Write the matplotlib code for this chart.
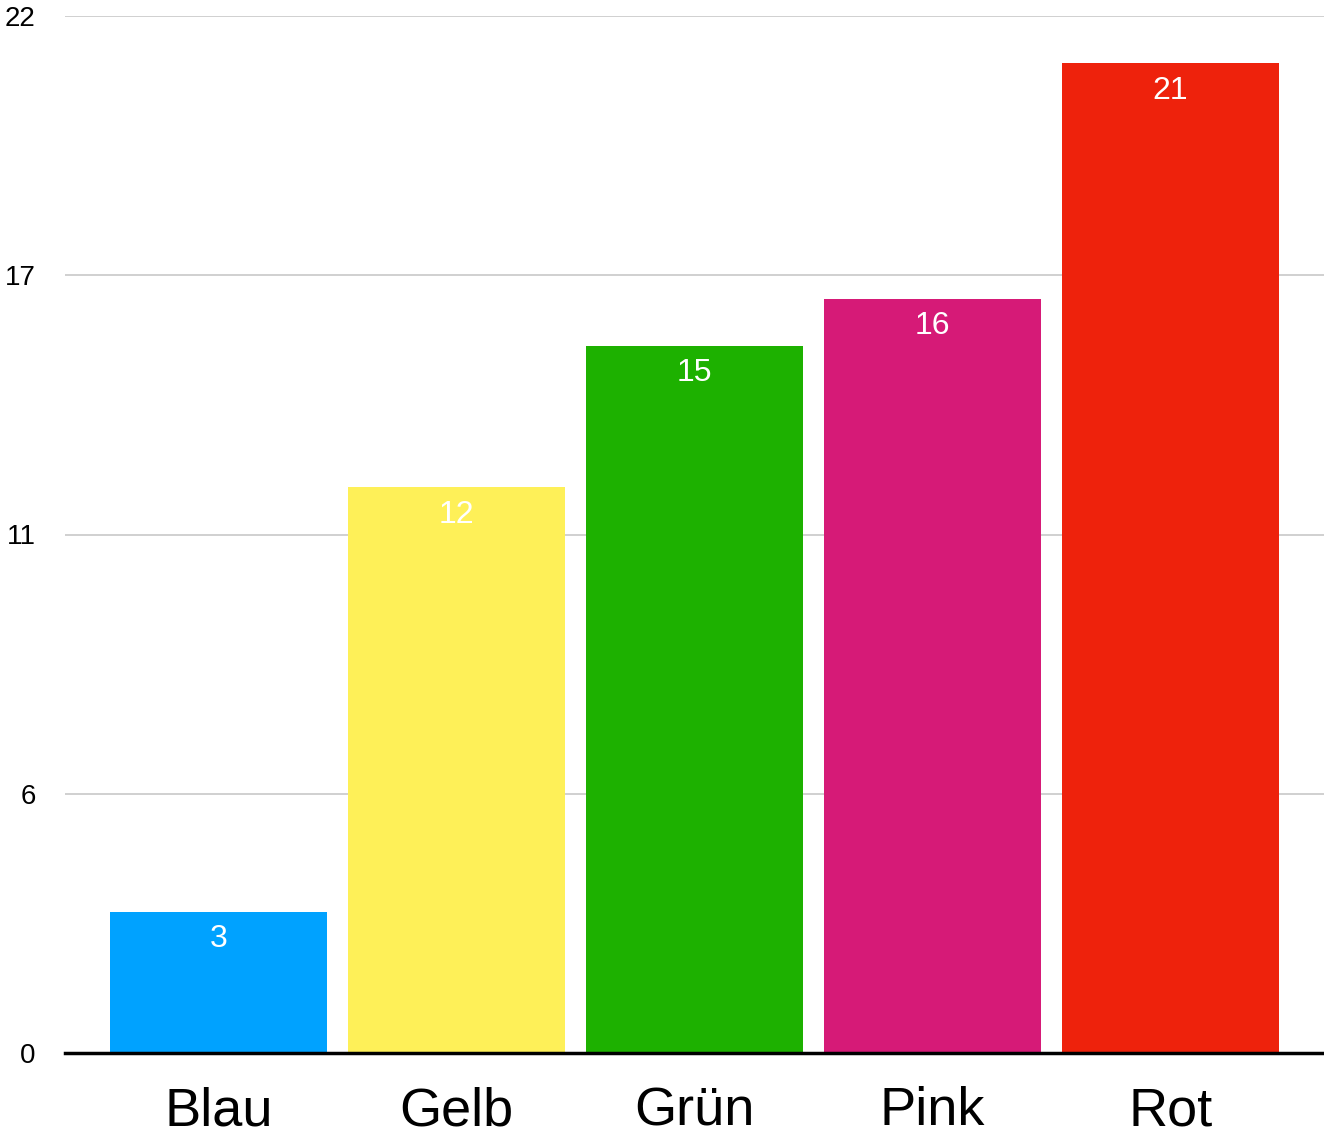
import matplotlib
matplotlib.use("Agg")
import matplotlib.pyplot as plt
import numpy as np

categories = ["Blau", "Gelb", "Grün", "Pink", "Rot"]
values = [3, 12, 15, 16, 21]
colors = ["#00a2ff", "#fef058", "#1db100", "#d61a77", "#ee220c"]
y_ticks = [0, 5.5, 11, 16.5, 22]
y_tick_labels = ["0", "6", "11", "17", "22"]

plt.rcParams['font.family'] = ['Liberation Sans', 'DejaVu Sans']

fig = plt.figure(figsize=(13.24, 11.38), dpi=100)
ax = fig.add_axes([65/1324, 1 - 1053/1138, (1324-65)/1324, (1053-16)/1138])

x = np.arange(len(categories))
bars = ax.bar(x, values, width=0.91, color=colors, zorder=2)
for xi, v in zip(x, values):
    ax.annotate(str(v), (xi, v), xytext=(0, -9), textcoords='offset points',
                ha='center', va='top', color='white', fontsize=23, zorder=3)

ax.set_xlim(-0.645, 4.645)
ax.set_ylim(0, 22)
ax.set_yticks(y_ticks)
ax.set_yticklabels(y_tick_labels, fontsize=20)
ax.set_xticks(x)
ax.set_xticklabels(categories, fontsize=39)
ax.tick_params(axis='y', length=0, pad=21)
ax.tick_params(axis='x', length=0, pad=24)
ax.grid(axis='y', color='#c8c8c8', linewidth=1.2, zorder=0)
ax.set_axisbelow(True)
for s in ['left', 'right', 'top']:
    ax.spines[s].set_visible(False)
ax.spines['bottom'].set_linewidth(2.5)
ax.spines['bottom'].set_color('black')
ax.spines['bottom'].set_zorder(4)

fig.savefig("out.png", dpi=100)
